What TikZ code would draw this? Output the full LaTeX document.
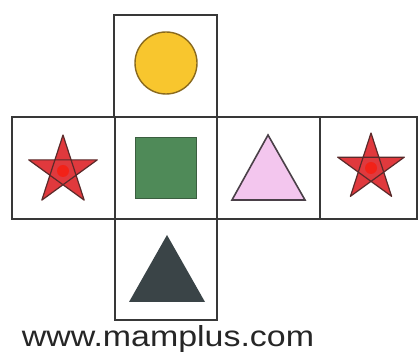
\documentclass[tikz,border=0pt]{standalone}
\usepackage{fontspec}
\setmainfont{Liberation Sans}
\usetikzlibrary{shapes.geometric,calc}
\definecolor{edge}{HTML}{383838}
\definecolor{sunY}{HTML}{F8C62E}
\definecolor{sunO}{HTML}{8A6A1E}
\definecolor{sqG}{HTML}{4F8A58}
\definecolor{sqO}{HTML}{3B5E40}
\definecolor{pinkF}{HTML}{F3C6EE}
\definecolor{pinkO}{HTML}{4A4048}
\definecolor{starR}{HTML}{E0393D}
\definecolor{starO}{HTML}{5A2A2A}
\definecolor{darkT}{HTML}{3A4447}
\begin{document}
\begin{tikzpicture}[x=1pt,y=1pt,
  cell/.style={draw=edge,line width=2.6pt,line join=miter},
  starstyle/.style={fill=starR,draw=starO,line width=1.2pt,line join=round}]
\useasboundingbox (0,0) rectangle (419,352);
\fill[white] (0,0) rectangle (419,352);
% cells
\draw[cell] (114,235) rectangle (217,337);
\draw[cell] (12,133) rectangle (115,235);
\draw[cell] (115,133) rectangle (217,235);
\draw[cell] (217,133) rectangle (320,235);
\draw[cell] (320,133) rectangle (417,235);
\draw[cell] (115,32) rectangle (217,133);
% circle
\node[circle,fill=sunY,draw=sunO,line width=1.4pt,minimum size=62pt,inner sep=0pt] (sun) at (166,289) {};
% square
\node[rectangle,fill=sqG,draw=sqO,line width=1.4pt,minimum size=61pt,inner sep=0pt] (sq) at (166,184) {};
% pink triangle
\coordinate (pa) at (268,217);
\coordinate (pb) at (232,152);
\coordinate (pc) at (305,152);
\draw[fill=pinkF,draw=pinkO,line width=1.6pt,line join=miter] (pa) -- (pb) -- (pc) -- cycle;
% stars
\foreach \n/\cx/\cy/\R in {sl/63/181/36, sr/371/184/35}{
  \coordinate (\n) at (\cx,\cy);
  \draw[starstyle] ($(\n)+(90:\R)$) -- ($(\n)+(234:\R)$) -- ($(\n)+(18:\R)$) -- ($(\n)+(162:\R)$) -- ($(\n)+(306:\R)$) -- cycle;
  \fill[red!85!orange,opacity=0.6] (\n) circle (6pt);
}
% dark triangle
\coordinate (da) at (167,117);
\coordinate (db) at (129,50);
\coordinate (dc) at (205,50);
\fill[darkT] (da) -- (db) -- (dc) -- cycle;
% text
\node[anchor=base,inner sep=0pt,text=black!85,xscale=1.17] (web) at (168,5) {\fontsize{29}{30}\selectfont www.mamplus.com};
\end{tikzpicture}
\end{document}
